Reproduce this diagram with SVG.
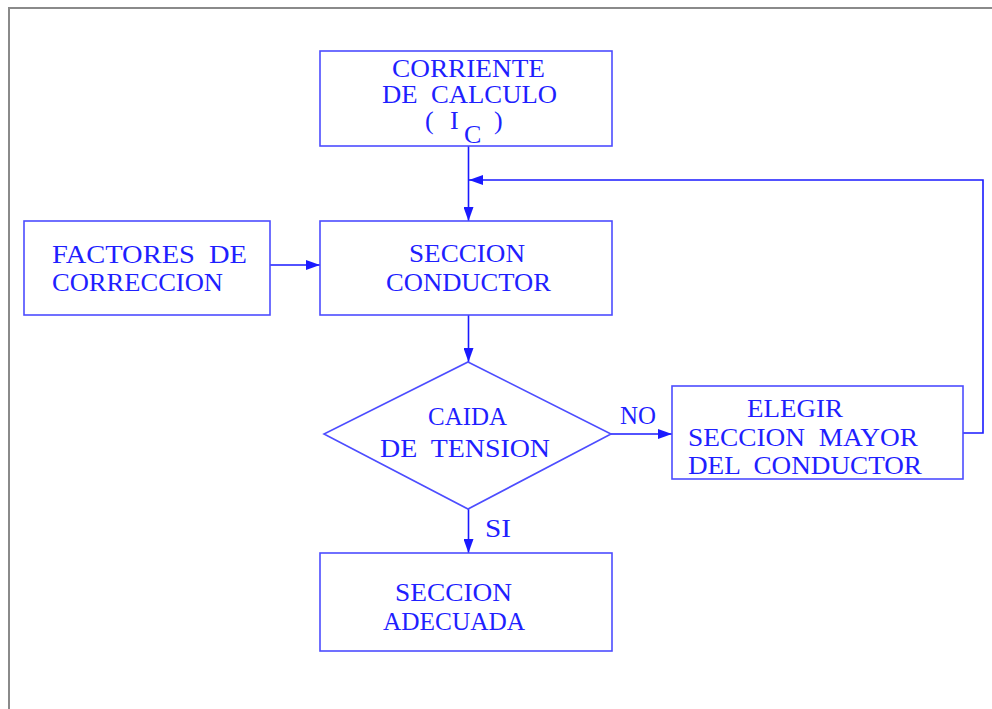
<svg xmlns="http://www.w3.org/2000/svg" width="992" height="709" viewBox="0 0 992 709">
  <style>
    .box { fill: none; stroke: #4d4dff; stroke-width: 1.6; }
    .link { fill: none; stroke: #1a1aff; stroke-width: 1.6; }
    .lbl { font-family: "Liberation Serif", "DejaVu Serif", serif; font-size: 26px; fill: #1f1fff; }
    .frame { fill: none; stroke: #8a8a8a; stroke-width: 2; }
  </style>
  <defs>
    <marker id="arrow" viewBox="0 0 14 10" refX="14" refY="5" markerWidth="14" markerHeight="10" markerUnits="userSpaceOnUse" orient="auto">
      <path d="M0,0 L14,5 L0,10 Z" fill="#1a1aff"/>
    </marker>
  </defs>
  <rect width="992" height="709" fill="#ffffff"/>
  <path class="frame" d="M9,709 V8 H992"/>

  <g id="connectors">
    <path class="link" d="M468.5,146 V221" marker-end="url(#arrow)"/>
    <path class="link" d="M270,265 H320" marker-end="url(#arrow)"/>
    <path class="link" d="M468.5,315 V362" marker-end="url(#arrow)"/>
    <path class="link" d="M611,434 H672" marker-end="url(#arrow)"/>
    <path class="link" d="M468.5,509 V553" marker-end="url(#arrow)"/>
    <path class="link" d="M963,433 H983 V180 H469" marker-end="url(#arrow)"/>
    <text class="lbl" x="620" y="424" textLength="36" lengthAdjust="spacingAndGlyphs">NO</text>
    <text class="lbl" x="485" y="537" textLength="26" lengthAdjust="spacingAndGlyphs">SI</text>
  </g>

  <g id="corriente">
    <rect class="box" x="320" y="51" width="292" height="95"/>
    <text class="lbl" x="392" y="77" textLength="153" lengthAdjust="spacingAndGlyphs">CORRIENTE</text>
    <text class="lbl" x="382" y="103" textLength="175" lengthAdjust="spacingAndGlyphs" xml:space="preserve">DE  CALCULO</text>
    <!-- current symbol with subscript -->
    <text class="lbl" x="425" y="129">(<tspan x="450">I</tspan><tspan x="464" y="143">C</tspan><tspan x="494" y="129">)</tspan></text>
  </g>

  <g id="factores">
    <rect class="box" x="24" y="221" width="246" height="94"/>
    <text class="lbl" x="52" y="263" textLength="195" lengthAdjust="spacingAndGlyphs" xml:space="preserve">FACTORES  DE</text>
    <text class="lbl" x="52" y="291" textLength="171" lengthAdjust="spacingAndGlyphs">CORRECCION</text>
  </g>

  <g id="seccion-conductor">
    <rect class="box" x="320" y="221" width="292" height="94"/>
    <text class="lbl" x="409" y="262" textLength="116" lengthAdjust="spacingAndGlyphs">SECCION</text>
    <text class="lbl" x="386" y="291" textLength="165" lengthAdjust="spacingAndGlyphs">CONDUCTOR</text>
  </g>

  <g id="caida-tension">
    <path class="box" d="M468,362 L611,434 L468,509 L324,434 Z"/>
    <text class="lbl" x="428" y="425" textLength="79" lengthAdjust="spacingAndGlyphs">CAIDA</text>
    <text class="lbl" x="380" y="457" textLength="170" lengthAdjust="spacingAndGlyphs" xml:space="preserve">DE  TENSION</text>
  </g>

  <g id="elegir">
    <rect class="box" x="672" y="386" width="291" height="93"/>
    <text class="lbl" x="747" y="417" textLength="96" lengthAdjust="spacingAndGlyphs">ELEGIR</text>
    <text class="lbl" x="688" y="446" textLength="230" lengthAdjust="spacingAndGlyphs" xml:space="preserve">SECCION  MAYOR</text>
    <text class="lbl" x="688" y="474" textLength="234" lengthAdjust="spacingAndGlyphs" xml:space="preserve">DEL  CONDUCTOR</text>
  </g>

  <g id="seccion-adecuada">
    <rect class="box" x="320" y="553" width="292" height="98"/>
    <text class="lbl" x="395" y="601" textLength="117" lengthAdjust="spacingAndGlyphs">SECCION</text>
    <text class="lbl" x="383" y="630" textLength="142" lengthAdjust="spacingAndGlyphs">ADECUADA</text>
  </g>
</svg>
